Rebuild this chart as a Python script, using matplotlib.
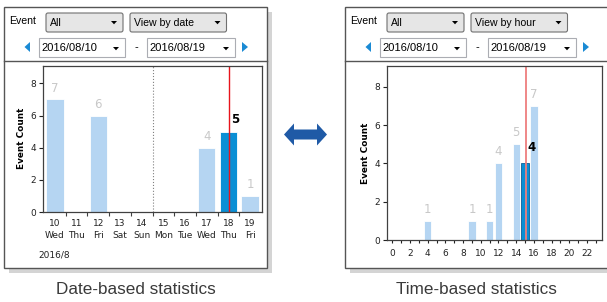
import matplotlib.pyplot as plt
from matplotlib.patches import Rectangle, FancyBboxPatch, Polygon

# ---- data ----
days = [10, 11, 12, 13, 14, 15, 16, 17, 18, 19]
weekdays = ['Wed', 'Thu', 'Fri', 'Sat', 'Sun', 'Mon', 'Tue', 'Wed', 'Thu', 'Fri']
day_counts = [7, 0, 6, 0, 0, 0, 0, 4, 5, 1]
sel_day = 18

hours = list(range(24))
hour_counts = [0, 0, 0, 0, 1, 0, 0, 0, 0, 1, 0, 1, 4, 0, 5, 4, 7, 0, 0, 0, 0, 0, 0, 0]
sel_hour = 15

date_from = '2016/08/10'
date_to = '2016/08/19'
captions = ['Date-based statistics', 'Time-based statistics']
view_modes = ['View by date', 'View by hour']

W, H = 607, 302
LIGHT = '#B5D5F2'
DARK = '#0A8FD5'
UI_FONT = 'Liberation Sans'

fig = plt.figure(figsize=(W / 100, H / 100), dpi=100)
bg = fig.add_axes([0, 0, 1, 1])
bg.set_xlim(0, W)
bg.set_ylim(H, 0)
bg.axis('off')


def ax_rect(l, t, r, b):
    return [l / W, 1 - b / H, (r - l) / W, (b - t) / H]


def down_arrow(x, y):
    bg.add_patch(Polygon([[x - 3, y - 1.5], [x + 3, y - 1.5], [x, y + 1.8]],
                         closed=True, color='black', lw=0))


def combo(x0, x1, label):
    bg.add_patch(FancyBboxPatch((x0, 13), x1 - x0, 19,
                                boxstyle='round,pad=0,rounding_size=2',
                                fc='#E6E6E6', ec='#707070', lw=0.8))
    bg.text(x0 + 4, 22.5, label, fontsize=7.6, family=UI_FONT, va='center')
    down_arrow(x1 - 9, 22.5)


def datebox(x0, x1, label):
    bg.add_patch(Rectangle((x0, 38), x1 - x0, 19, fc='white', ec='#ABADB3', lw=0.8))
    bg.text(x0 + 2.5, 48, label, fontsize=8, family=UI_FONT, va='center')
    down_arrow(x1 - 9, 48.5)


def panel(dx, mode):
    # shadow + frame
    bg.add_patch(Rectangle((dx + 9, 12), 263, 261, fc='#D4D4D4', ec='none'))
    bg.add_patch(Rectangle((dx + 4, 7), 263, 261, fc='white', ec='#555555', lw=1))
    bg.plot([dx + 4, dx + 267], [61, 61], color='#555555', lw=1)
    bg.text(dx + 9, 21, 'Event', fontsize=7.6, family=UI_FONT, va='center')
    combo(dx + 46, dx + 123, 'All')
    combo(dx + 130, dx + 226.5, mode)
    bg.add_patch(Polygon([[dx + 30, 42], [dx + 30, 52], [dx + 24.5, 47]],
                         closed=True, color='#1A8AD4', lw=0))
    datebox(dx + 38.5, dx + 125, date_from)
    bg.text(dx + 136.5, 47.5, '-', fontsize=8, family=UI_FONT, ha='center', va='center')
    datebox(dx + 147, dx + 235, date_to)
    bg.add_patch(Polygon([[dx + 242, 42], [dx + 242, 52], [dx + 248, 47]],
                         closed=True, color='#1A8AD4', lw=0))


panel(0, view_modes[0])
panel(341, view_modes[1])

# double arrow between the panels
cy = 134.5
bg.add_patch(Polygon([[284, cy], [294, cy - 11], [294, cy - 5], [317, cy - 5], [317, cy - 11],
                      [327, cy], [317, cy + 11], [317, cy + 5], [294, cy + 5], [294, cy + 11]],
                     closed=True, color='#1F5AA6', lw=0))

bg.text(135.5, 290, captions[0], fontsize=12.3, family=UI_FONT, color='#3A3A3A',
        ha='center', va='center')
bg.text(476, 290, captions[1], fontsize=12.3, family=UI_FONT, color='#3A3A3A',
        ha='center', va='center')


def style_axes(ax):
    for s in ax.spines.values():
        s.set_color('#404040')
        s.set_linewidth(0.9)
    ax.set_ylim(0, 9.08)
    ax.set_yticks([0, 2, 4, 6, 8])
    ax.tick_params(axis='y', length=3, width=0.8, pad=2, labelsize=6.5, colors='#222222')


def value_labels(ax, xs, vals, sel):
    for x, v in zip(xs, vals):
        if v == 0 or x == sel:
            continue
        ax.annotate(str(v), (x, v), xytext=(0, 3.5), textcoords='offset points',
                    ha='center', va='bottom', fontsize=8.5, color='#C8C8C8')


# ---- date based chart ----
ax1 = fig.add_axes(ax_rect(43, 66, 262, 212))
style_axes(ax1)
ax1.set_xlim(9.45, 19.55)
for d, c in zip(days, day_counts):
    if c:
        ax1.bar(d, c, width=0.8, color=DARK if d == sel_day else LIGHT,
                edgecolor='white', linewidth=0.6)
value_labels(ax1, days, day_counts, sel_day)
ax1.annotate(str(day_counts[days.index(sel_day)]), (sel_day, day_counts[days.index(sel_day)]),
             xytext=(4.8, 8.4), textcoords='offset points', ha='center', va='center',
             fontsize=8.5, fontweight='bold', color='black')
ax1.axvline(14.5, color='#808080', ls=':', lw=0.8)
ax1.axvline(sel_day + 0.05, color='#E8141B', lw=1)
ax1.set_xticks(days)
ax1.set_xticklabels([f'{d}\n{w}' for d, w in zip(days, weekdays)], linespacing=1.5)
ax1.set_xticks([d + 0.5 for d in days[:-1]], minor=True)
ax1.tick_params(axis='x', which='major', length=0, pad=5, labelsize=6.5, colors='#222222')
ax1.tick_params(axis='x', which='minor', length=3, width=0.8, colors='#404040')
bg.text(38, 255, '2016/8', fontsize=6.5, va='center', color='#222222')
bg.text(22, 138, 'Event Count', rotation=90, fontsize=6.4, fontweight='bold',
        ha='center', va='center')

# ---- time based chart ----
ax2 = fig.add_axes(ax_rect(387, 66, 602, 240))
style_axes(ax2)
ax2.set_xlim(-0.6, 23.7)
for h, c in zip(hours, hour_counts):
    if c:
        ax2.bar(h, c, width=0.82, color=DARK if h == sel_hour else LIGHT,
                edgecolor='white' if h != sel_hour else '#0B5E9A', linewidth=0.6)
value_labels(ax2, hours, hour_counts, sel_hour)
ax2.annotate(str(hour_counts[sel_hour]), (sel_hour, hour_counts[sel_hour]),
             xytext=(4.8, 11.5), textcoords='offset points', ha='center', va='center',
             fontsize=8.5, fontweight='bold', color='black')
ax2.axvline(sel_hour + 0.1, color='#EE7E7E', lw=1.3)
ax2.set_xticks(list(range(0, 23, 2)))
ax2.set_xticks(hours, minor=True)
ax2.tick_params(axis='x', which='both', length=2.5, width=0.8, pad=4, labelsize=6.5,
                colors='#222222')
bg.text(365, 153, 'Event Count', rotation=90, fontsize=6.4, fontweight='bold',
        ha='center', va='center')

fig.savefig('out.png', dpi=100)
